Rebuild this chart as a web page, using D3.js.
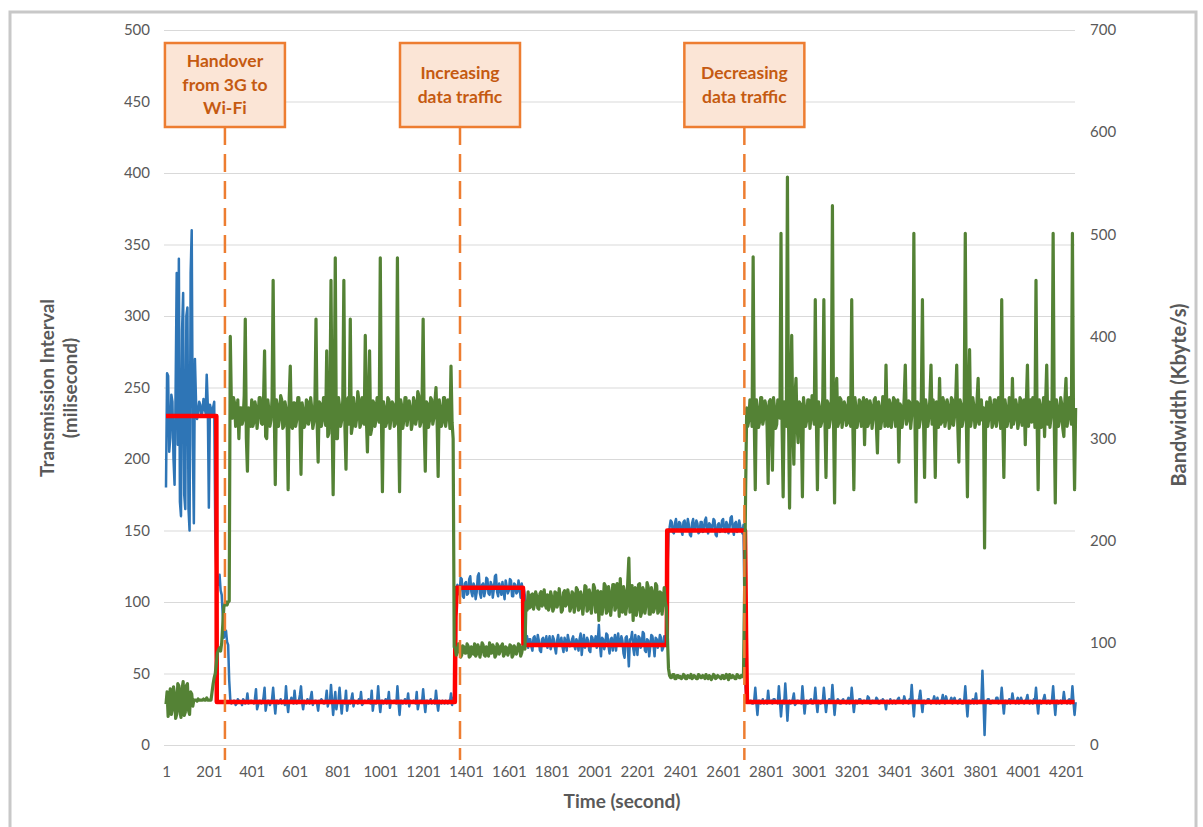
<!DOCTYPE html>
<html lang="en">
<head>
<meta charset="utf-8" />
<title>Transmission interval and bandwidth over time</title>
<style>
  body { margin: 0; background: #fff; font-family: Lato, "Open Sans", sans-serif; }
  .grid line { stroke: #d9d9d9; stroke-width: 1; }
  .tick-label { font-size: 15px; fill: #595959; font-family: Lato, "Open Sans", sans-serif; }
  .axis-title { font-size: 19px; font-weight: bold; fill: #595959; }
  .narrow { font-family: "Liberation Sans Narrow", Lato, sans-serif; font-size: 20px; }
  .series { fill: none; stroke-linejoin: round; }
  .note rect { fill: #fbe5d6; stroke: #ed7d31; stroke-width: 2.5px; }
  .note text { font-size: 17.5px; font-weight: bold; fill: #c55a11; text-anchor: middle; }
  .note line { stroke: #ed7d31; stroke-width: 2.5px; stroke-dasharray: 18 9; }
</style>
</head>
<body>
<script src="https://cdn.jsdelivr.net/npm/d3@7"></script>
<script>
  // one plotted sample every 5 seconds
  const sampleStep = 5;

  const xTicks = [1, 201, 401, 601, 801, 1001, 1201, 1401, 1601, 1801, 2001,
                  2201, 2401, 2601, 2801, 3001, 3201, 3401, 3601, 3801, 4001, 4201];
  const leftTicks = [0, 50, 100, 150, 200, 250, 300, 350, 400, 450, 500];
  const rightTicks = [0, 100, 200, 300, 400, 500, 600, 700];

  // transmission interval (milisecond), blue, 100 s per row
  const intervalMs = [
    180,260,258,205,215,245,240,200,182,250,330,210,340,170,160,290,316,175,165,300,
    306,165,150,330,360,210,155,270,241,228,232,240,238,230,233,242,236,232,259,238,
    166,238,235,232,236,240,148,120,115,112,119,108,105,90,75,78,80,72,70,45,
    32,29,30,31,31,28,29,32,31,30,30,28,32,31,29,30,36,29,30,31,
    31,30,29,32,39,25,28,31,31,29,30,33,40,24,29,31,31,28,30,32,
    40,30,22,31,31,29,30,32,29,30,31,28,41,30,23,31,30,33,31,29,
    38,30,29,31,31,35,41,30,25,31,30,29,32,30,29,33,37,28,30,31,
    31,29,24,31,30,32,31,29,29,31,38,27,31,30,42,31,21,30,37,25,
    30,31,40,30,22,31,31,29,38,24,30,31,29,32,36,27,31,30,30,29,
    32,30,37,28,29,31,31,30,30,32,31,29,38,24,30,31,29,30,41,30,
    23,31,31,29,30,32,29,30,37,26,31,30,30,31,30,29,41,30,21,31,
    31,29,30,32,29,30,36,27,31,30,30,31,30,29,37,25,29,31,31,30,
    39,30,23,31,31,29,30,32,29,30,31,29,38,30,24,31,30,29,31,30,
    29,31,30,29,31,30,36,28,32,34,95,110,112,106,105,117,116,104,103,113,
    114,105,106,116,118,107,104,113,111,102,107,118,120,106,103,112,113,104,108,117,
    116,106,105,114,112,103,109,118,119,107,104,113,110,105,114,108,102,115,111,106,
    108,116,115,104,104,113,112,106,107,115,110,103,113,108,109,104,72,76,68,74,
    74,69,66,75,76,71,70,77,73,66,65,74,75,70,71,76,68,72,76,67,
    70,76,74,68,64,73,77,70,71,75,69,65,75,72,66,77,73,69,70,74,
    76,70,67,74,72,66,74,78,63,71,77,68,70,75,73,66,65,76,75,70,
    71,76,68,73,84,70,62,75,74,67,70,78,77,69,64,74,75,66,72,77,
    66,73,78,70,70,76,73,64,61,75,76,69,55,74,74,79,68,63,77,71,
    63,76,75,68,70,79,78,66,65,74,73,62,69,77,76,70,62,75,74,68,
    71,77,75,66,68,76,72,70,120,148,152,157,156,149,148,155,158,151,150,156,
    155,150,147,156,157,151,151,158,154,147,146,155,158,150,152,157,155,148,149,156,
    156,149,150,157,159,151,148,155,154,150,152,158,157,147,146,154,155,149,151,157,
    158,150,149,156,154,148,152,159,160,151,147,155,156,149,151,157,153,150,148,154,
    90,40,32,30,30,31,31,29,29,31,40,30,21,31,31,29,30,32,29,30,
    31,29,38,30,30,31,29,32,32,30,30,29,41,31,20,30,31,29,43,31,
    17,30,31,29,30,32,36,28,29,31,31,30,30,29,41,31,22,30,31,29,
    30,31,32,29,29,31,40,30,23,31,30,29,31,30,40,31,23,30,30,32,
    31,30,42,31,21,30,30,32,31,29,29,31,32,30,30,29,31,33,29,30,
    40,31,23,30,31,29,30,32,32,30,29,31,31,30,30,34,33,29,29,31,
    31,30,30,33,32,29,29,31,30,32,31,30,25,31,30,29,32,30,29,31,
    31,29,30,32,33,30,30,31,29,34,31,30,30,29,32,31,42,30,20,31,
    31,30,30,33,38,30,23,31,31,29,30,32,32,30,29,31,31,34,30,29,
    33,30,29,31,31,35,30,29,34,31,30,30,31,33,29,31,33,30,30,29,
    31,32,30,29,29,31,41,30,20,31,31,29,30,32,29,31,36,29,30,31,
    31,30,52,31,7,30,30,32,32,29,29,31,31,30,30,33,33,29,30,31,
    40,30,22,31,31,29,30,32,29,30,36,31,30,29,31,33,29,30,33,31,
    30,29,31,32,35,30,29,31,30,29,32,31,40,30,22,31,31,29,30,32,
    35,30,29,31,31,29,30,32,41,30,21,31,31,29,30,31,29,30,37,31,
    30,29,31,32,29,30,41,30,21,30
  ];

  // bandwidth (Kbyte/s), green, right axis, 100 s per row
  const bandwidthKB = [
    40,52,28,45,55,30,35,57,50,26,30,60,58,33,27,55,62,29,32,58,
    60,34,30,52,50,38,44,44,44,43,45,44,44,44,44,45,44,44,46,44,
    44,44,44,52,60,66,70,80,90,93,95,92,100,118,135,138,140,137,140,141,
    400,335,320,340,335,312,315,338,300,330,330,314,318,342,417,300,268,330,325,312,
    338,312,316,336,330,310,322,340,340,315,314,335,386,302,300,338,328,312,318,340,
    455,330,255,338,332,312,320,342,338,310,312,336,330,318,250,340,371,312,310,335,
    335,312,318,340,340,320,265,335,328,311,315,338,336,314,320,340,330,310,316,337,
    417,318,277,336,334,312,318,340,340,313,386,302,305,336,455,320,245,338,477,300,
    300,340,332,312,318,338,455,310,270,336,340,314,417,305,312,340,330,312,320,346,
    338,311,315,340,332,314,401,320,287,338,386,304,310,337,335,312,318,340,340,316,
    477,325,248,336,330,312,316,340,338,310,320,336,334,312,314,330,477,318,248,338,
    332,310,318,340,340,313,322,337,330,309,315,340,336,314,320,346,342,312,316,338,
    417,312,268,336,334,311,318,340,338,314,320,336,350,318,263,338,330,312,316,340,
    340,312,320,338,332,310,371,316,300,96,95,88,92,99,98,86,88,97,96,90,
    90,99,97,86,87,96,94,89,99,87,89,98,95,86,92,100,98,88,87,96,
    94,87,100,90,90,98,96,86,88,99,97,89,92,97,99,87,89,96,95,88,
    91,98,97,86,88,97,95,89,93,99,98,87,90,96,96,94,140,132,150,134,
    135,147,148,133,138,150,146,134,133,148,150,136,140,152,137,134,147,132,136,150,
    145,131,134,150,149,135,139,153,143,130,132,149,151,136,138,152,146,131,135,150,
    148,130,137,154,152,132,134,150,145,128,139,156,155,131,133,152,147,129,140,157,
    154,130,132,151,122,148,150,128,136,158,156,129,131,155,149,127,138,157,157,132,
    135,158,152,126,163,133,130,155,150,128,136,160,183,130,148,156,122,150,154,127,
    133,157,158,126,130,154,151,129,137,159,155,128,128,154,150,130,134,158,156,129,
    131,150,149,128,138,154,140,135,105,75,68,66,66,69,69,65,65,68,68,66,
    67,65,66,69,68,65,65,68,67,66,69,65,66,68,67,65,65,69,68,66,
    66,68,67,65,69,66,65,68,67,64,66,69,68,65,66,68,67,66,65,68,
    68,65,66,69,67,64,69,66,66,68,67,65,65,69,68,66,66,68,67,70,
    150,250,330,312,318,338,336,312,478,320,250,338,328,311,316,340,340,314,320,337,
    332,312,256,336,338,314,269,340,330,310,314,338,336,320,501,312,243,336,322,312,
    556,320,232,338,401,314,275,340,359,312,296,336,334,311,243,340,330,312,318,338,
    338,310,320,342,332,314,436,320,250,336,330,312,316,340,436,318,262,337,334,311,
    318,340,528,320,237,338,359,312,316,340,338,311,320,336,332,313,315,340,340,312,
    436,318,250,340,330,311,318,338,336,312,322,340,294,336,338,312,316,337,332,310,
    320,338,340,313,286,336,330,310,318,341,336,312,372,316,312,338,334,311,320,340,
    338,312,316,338,277,334,332,311,320,340,372,314,318,337,336,310,322,330,501,320,
    238,336,334,311,318,340,436,320,262,338,330,312,320,340,372,314,338,320,262,336,
    330,311,359,314,316,340,336,312,320,338,332,310,314,340,338,313,322,337,372,312,
    277,338,334,312,318,336,501,318,243,336,387,312,320,340,332,311,316,338,359,314,
    330,338,318,330,193,320,336,312,320,340,332,311,315,338,338,312,320,340,334,310,
    436,318,262,338,330,312,318,340,336,311,359,314,320,338,332,310,316,340,338,313,
    322,338,294,336,372,312,330,338,316,340,336,311,455,320,250,338,332,311,318,340,
    302,336,372,314,336,311,320,340,501,320,237,338,330,312,318,340,334,310,302,338,
    359,312,320,340,336,314,501,320,250,330
  ];

  // target interval (red step line): time in seconds, value in milisecond
  const targetTime = [1, 236, 238, 1349, 1352, 1358, 1667, 1669, 2338, 2340, 2703, 2708, 2712, 4241];
  const targetMs   = [230, 230, 30, 30, 90, 110, 110, 70, 70, 150, 150, 75, 30, 30];

  const noteTimes = [276, 1373, 2700];
  const noteLines = [
    ["Handover", "from 3G to", "Wi-Fi"],
    ["Increasing", "data traffic"],
    ["Decreasing", "data traffic"]
  ];

  const width = 1203;
  const height = 827;
  const plotLeft = 164, plotRight = 1075, plotTop = 30, plotBottom = 745;

  const svg = d3.select("body").append("svg")
    .attr("width", width)
    .attr("height", height);

  // outer frame
  svg.append("rect")
    .attr("x", 10).attr("y", 12)
    .attr("width", 1186).attr("height", 900)
    .attr("fill", "none")
    .attr("stroke", "#c8c8c8")
    .attr("stroke-width", 3);

  const x = d3.scaleLinear().domain([1, 4201]).range([166, 1066]);
  const yL = d3.scaleLinear().domain([0, 500]).range([plotBottom, plotTop]);
  const yR = d3.scaleLinear().domain([0, 700]).range([plotBottom, plotTop]);

  // gridlines
  svg.append("g")
    .attr("class", "grid")
    .attr("transform", `translate(${plotRight},0)`)
    .call(d3.axisLeft(yL).tickValues(leftTicks).tickSize(plotRight - plotLeft).tickFormat(""))
    .call(g => g.select(".domain").remove());

  // left axis labels
  svg.append("g")
    .attr("transform", "translate(150,0)")
    .call(d3.axisLeft(yL).tickValues(leftTicks).tickSize(0).tickPadding(0))
    .call(g => g.select(".domain").remove())
    .selectAll("text").attr("class", "tick-label");

  // right axis labels
  svg.append("g")
    .attr("transform", "translate(1090,0)")
    .call(d3.axisRight(yR).tickValues(rightTicks).tickSize(0).tickPadding(0))
    .call(g => g.select(".domain").remove())
    .selectAll("text").attr("class", "tick-label");

  // x axis labels
  svg.append("g")
    .attr("transform", "translate(0,766)")
    .call(d3.axisBottom(x).tickValues(xTicks).tickSize(0).tickPadding(0).tickFormat(d3.format("d")))
    .call(g => g.select(".domain").remove())
    .selectAll("text").attr("class", "tick-label");

  // axis titles
  svg.append("text")
    .attr("class", "axis-title")
    .attr("text-anchor", "middle")
    .attr("x", 622).attr("y", 808)
    .text("Time (second)");

  const leftTitle = svg.append("g").attr("transform", "translate(54,388) rotate(-90)");
  leftTitle.append("text").attr("class", "axis-title").attr("text-anchor", "middle")
    .attr("x", 0).attr("y", 0).text("Transmission Interval");
  leftTitle.append("text").attr("class", "axis-title").attr("text-anchor", "middle")
    .attr("x", 0).attr("y", 23).text("(milisecond)");

  svg.append("text")
    .attr("class", "axis-title narrow")
    .attr("text-anchor", "middle")
    .attr("transform", "translate(1186,395) rotate(-90)")
    .text("Bandwidth  (Kbyte/s)");

  // series
  const tOf = i => 1 + i * sampleStep;

  svg.append("path")
    .datum(intervalMs)
    .attr("class", "series")
    .attr("stroke", "#2e75b6")
    .attr("stroke-width", 2.5)
    .attr("d", d3.line().x((d, i) => x(tOf(i))).y(d => yL(d)));

  svg.append("path")
    .datum(targetTime.map((t, i) => [t, targetMs[i]]))
    .attr("class", "series")
    .attr("stroke", "#ff0000")
    .attr("stroke-width", 4.5)
    .attr("d", d3.line().x(d => x(d[0])).y(d => yL(d[1])));

  svg.append("path")
    .datum(bandwidthKB)
    .attr("class", "series")
    .attr("stroke", "#548235")
    .attr("stroke-width", 3.2)
    .attr("d", d3.line().x((d, i) => x(tOf(i))).y(d => yR(d)));

  // annotations
  noteTimes.forEach((t, k) => {
    const cx = x(t);
    const g = svg.append("g").attr("class", "note");
    g.append("line")
      .attr("x1", cx).attr("x2", cx)
      .attr("y1", 127).attr("y2", 760);
    g.append("rect")
      .attr("x", cx - 60).attr("y", 43)
      .attr("width", 120).attr("height", 84);
    const lines = noteLines[k];
    const first = lines.length === 3 ? 67 : 79;
    lines.forEach((s, j) => {
      g.append("text")
        .attr("x", cx)
        .attr("y", first + j * 23.5)
        .text(s);
    });
  });
</script>
</body>
</html>
